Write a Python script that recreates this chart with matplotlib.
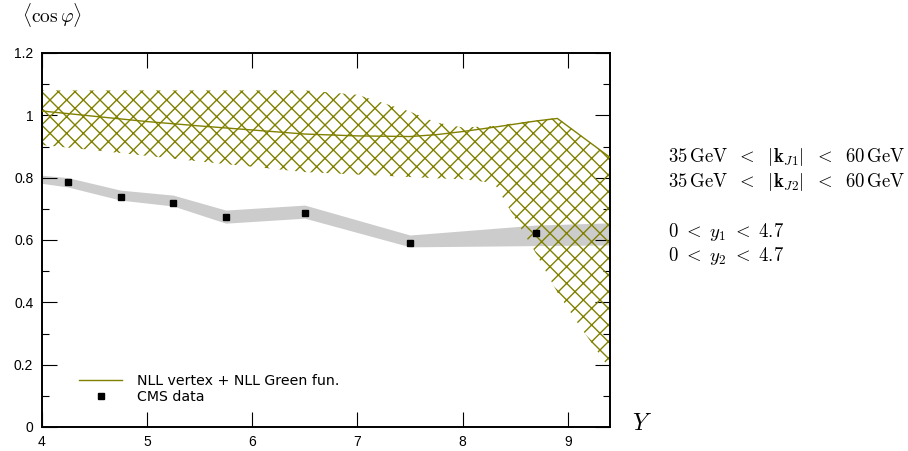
import matplotlib

matplotlib.use("Agg")
import matplotlib.pyplot as plt
from matplotlib.lines import Line2D
from matplotlib.ticker import FormatStrFormatter, MultipleLocator

# CMS data points (rapidity interval Y, <cos phi>)
cms_y = [4.25, 4.75, 5.25, 5.75, 6.5, 7.5, 8.7]
cms_val = [0.786, 0.738, 0.719, 0.674, 0.687, 0.590, 0.621]

# grey experimental uncertainty band
band_y = [4.0, 4.25, 4.75, 5.25, 5.75, 6.5, 7.5, 8.7, 9.4]
band_lo = [0.782, 0.770, 0.728, 0.709, 0.654, 0.670, 0.578, 0.582, 0.584]
band_hi = [0.808, 0.800, 0.760, 0.744, 0.696, 0.712, 0.616, 0.648, 0.655]

# NLL vertex + NLL Green function: central value and scale band
nll_y = [4.0, 4.5, 5.0, 5.5, 6.0, 6.5, 7.0, 7.5, 7.75, 8.0, 8.3, 8.5, 8.7, 8.9, 9.1, 9.4]
nll_central = [1.014, 0.997, 0.980, 0.966, 0.953, 0.940, 0.934, 0.932, 0.938,
               0.948, 0.962, 0.972, 0.982, 0.990, 0.940, 0.865]
nll_hi = [1.080, 1.080, 1.080, 1.080, 1.080, 1.080, 1.066, 1.012, 0.977,
          0.961, 0.966, 0.975, 0.984, 0.992, 0.942, 0.865]
nll_lo = [0.905, 0.888, 0.870, 0.852, 0.835, 0.818, 0.810, 0.802, 0.798,
          0.795, 0.783, 0.668, 0.555, 0.432, 0.330, 0.185]

cuts = [
    r"$35\,\mathrm{GeV}\ \;<\ \;|\mathbf{k}_{J1}|\ \;<\ \;60\,\mathrm{GeV}$",
    r"$35\,\mathrm{GeV}\ \;<\ \;|\mathbf{k}_{J2}|\ \;<\ \;60\,\mathrm{GeV}$",
    r"$0\ <\ y_1\ <\ 4.7$",
    r"$0\ <\ y_2\ <\ 4.7$",
]

olive = "#808000"
plt.rcParams["mathtext.fontset"] = "cm"
plt.rcParams["hatch.linewidth"] = 1.0
plt.rcParams["font.family"] = "Liberation Sans"

fig = plt.figure(figsize=(9.08, 4.51), dpi=100)
ax = fig.add_axes([41.6 / 908, 24 / 451, 568.4 / 908, 374 / 451])

ax.fill_between(band_y, band_lo, band_hi, color="#cccccc", linewidth=0, zorder=1)
ax.fill_between(nll_y, nll_lo, nll_hi, facecolor="none", edgecolor=olive,
                hatch="xx", linewidth=0, zorder=2)
ax.plot(nll_y, nll_central, color=olive, linewidth=1.0, zorder=3)
ax.plot(cms_y, cms_val, linestyle="none", marker="s", markersize=4.3,
        color="black", zorder=4)

ax.set_xlim(4, 9.4)
ax.set_ylim(0, 1.2)
ax.xaxis.set_major_locator(MultipleLocator(1))
ax.yaxis.set_major_locator(MultipleLocator(0.2))
ax.yaxis.set_minor_locator(MultipleLocator(0.1))
ax.yaxis.set_major_formatter(FormatStrFormatter("%g"))
ax.tick_params(which="both", direction="in", top=True, right=True,
               width=0.8, labelsize=10)
ax.tick_params(which="major", length=10.5, pad=6)
ax.tick_params(which="minor", length=5)
for spine in ax.spines.values():
    spine.set_linewidth(1.4)

handles = [
    Line2D([], [], color=olive, linewidth=1.0),
    Line2D([], [], linestyle="none", marker="s", markersize=4.3, color="black"),
]
ax.legend(handles, ["NLL vertex + NLL Green fun.", "CMS data"],
          loc="lower left", bbox_to_anchor=(0.065, 0.062), frameon=False,
          prop={"family": "DejaVu Sans", "size": 10.2},
          handlelength=3.1, handletextpad=1.05, labelspacing=0.15,
          borderpad=0, borderaxespad=0)

fig.text(52 / 908, 1 - 15 / 451, r"$\langle\cos\varphi\rangle$",
         fontsize=14, ha="center", va="center")
fig.text(642 / 908, 1 - 424 / 451, r"$Y$", fontsize=17, ha="center", va="center")

for text, ypx in zip(cuts, [157, 182, 232, 256]):
    fig.text(668 / 908, 1 - ypx / 451, text, fontsize=13.5, ha="left", va="center")

fig.savefig("out.png", dpi=100)
